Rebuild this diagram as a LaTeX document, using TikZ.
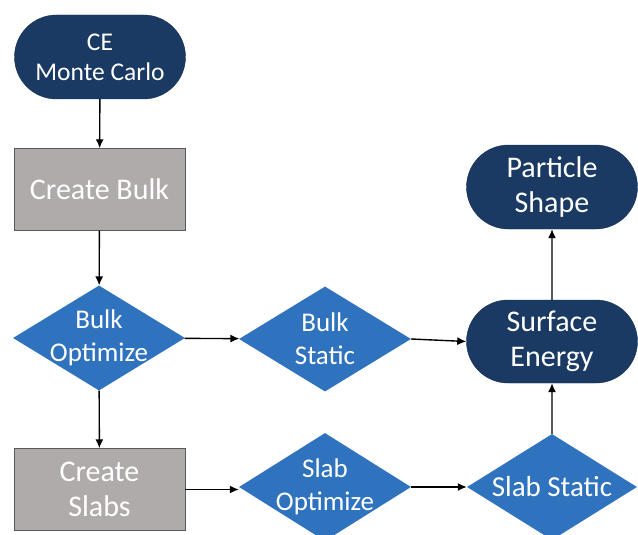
\documentclass[tikz,border=0pt]{standalone}
\usepackage{fontspec}
\setmainfont{Carlito}
\usetikzlibrary{shapes.geometric,shapes.misc,arrows.meta}
\definecolor{navy}{HTML}{1A3A63}
\definecolor{boxgray}{HTML}{AFABAB}
\definecolor{stepblue}{HTML}{2F72BE}
\begin{document}
\begin{tikzpicture}[x=1pt,y=-1pt]
				\tikzstyle{every node}=[text=white,align=center,font=\fontsize{30}{35}\selectfont]
				\tikzstyle{terminal}=[rounded rectangle,fill=navy,draw=navy!80!black,thin,minimum width=171pt,minimum height=84pt,inner sep=0pt]
				\tikzstyle{process}=[rectangle,fill=boxgray,draw=black!65,thin,minimum width=171pt,minimum height=82pt,inner sep=0pt]
				\tikzstyle{decision}=[diamond,fill=stepblue,aspect=1.6,minimum width=172pt,minimum height=105pt,inner sep=-25pt,font=\fontsize{27}{33}\selectfont]
				\tikzstyle{flow}=[draw=black,line width=1.4pt,-{Latex[length=9pt,width=8pt]}]
				\useasboundingbox (0,0) rectangle (638,535);
				% left column
				\node[terminal,font=\fontsize{25.5}{30}\selectfont] (ce) at (100,57) {CE\\Monte Carlo};
				\node[process] (bulk) at (99.5,189.5) {Create Bulk};
				\node[decision] (bopt) at (99,338) {Bulk\\Optimize};
				\node[process] (slabs) at (99.5,489.5) {Create\\Slabs};
				% middle column
				\node[decision] (bstat) at (325,339) {Bulk\\Static};
				\node[decision,minimum height=108pt] (sopt) at (325,487) {Slab\\Optimize};
				% right column
				\node[terminal] (part) at (552,187) {Particle\\Shape};
				\node[terminal,minimum height=83pt] (surf) at (552,341.5) {Surface\\Energy};
				\node[decision,minimum width=170pt,minimum height=106pt,font=\fontsize{29}{34}\selectfont] (sstat) at (552,487) {Slab Static};
				% connectors
				\draw[flow] (ce) -- (bulk);
				\draw[flow] (bulk) -- (bopt);
				\draw[flow] (bopt) -- (slabs);
				\draw[flow] (bopt) -- (bstat);
				\draw[flow] (bstat.east) -- (surf.west);
				\draw[flow] (slabs) -- (slabs -| sopt.west);
				\draw[flow] (sopt) -- (sstat);
				\draw[flow] (sstat) -- (surf);
				\draw[flow] (surf) -- (part);
\end{tikzpicture}
\end{document}
